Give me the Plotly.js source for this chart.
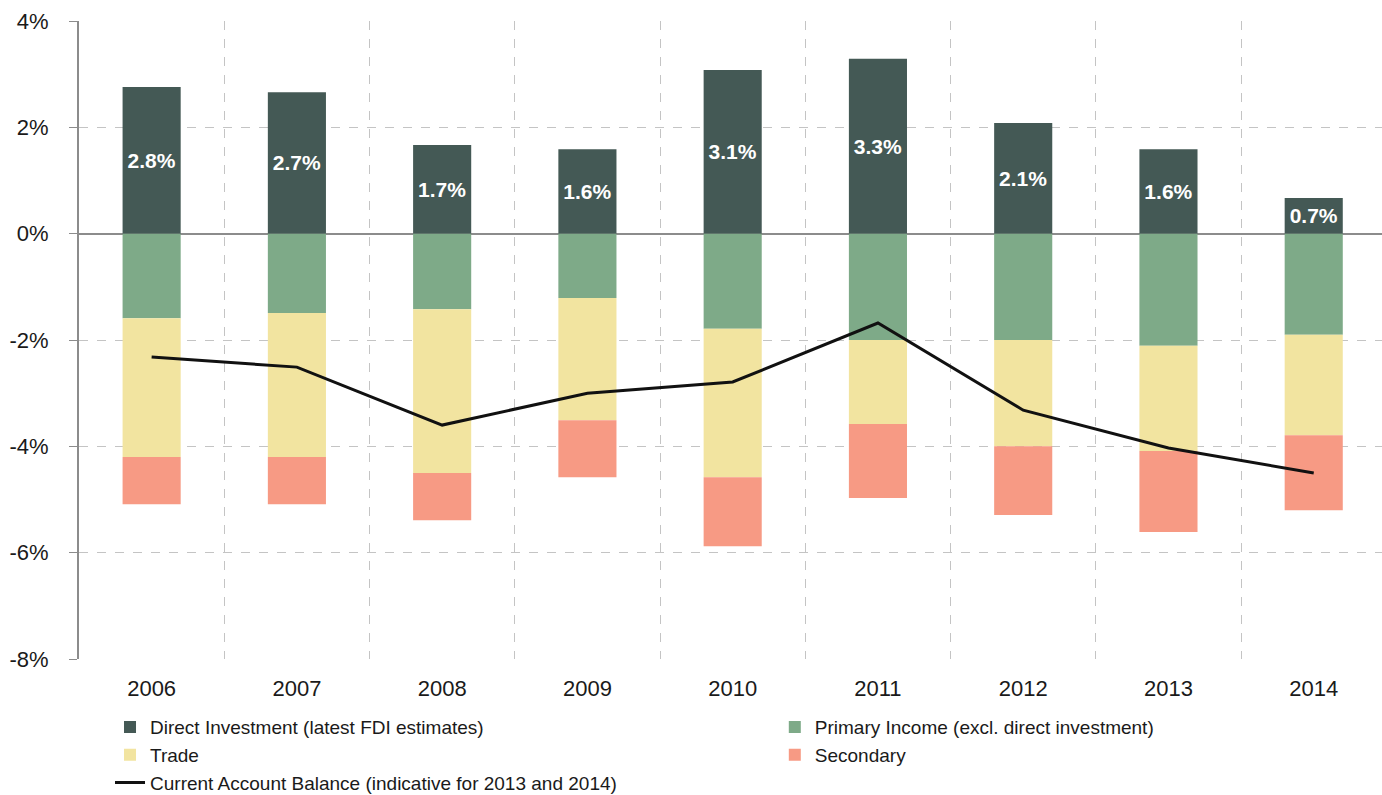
<!DOCTYPE html>
<html><head><meta charset="utf-8">
<script src="https://cdn.plot.ly/plotly-3.0.1.min.js"></script>
<style>html,body{margin:0;padding:0;background:#fff}#chart{width:1382px;height:795px}</style>
</head><body><div id="chart"></div>
<script>
const years = ['2006','2007','2008','2009','2010','2011','2012','2013','2014'];
const directInvestment = [2.76, 2.66, 1.67, 1.59, 3.08, 3.29, 2.08, 1.59, 0.67];
const primaryIncome = [-1.59, -1.49, -1.42, -1.21, -1.79, -2.0, -2.0, -2.11, -1.9];
const trade = [-2.61, -2.71, -3.08, -2.3, -2.79, -1.58, -2.0, -1.98, -1.89];
const secondary = [-0.89, -0.89, -0.89, -1.07, -1.3, -1.39, -1.29, -1.52, -1.41];
const currentAccount = [-2.32, -2.51, -3.6, -3.0, -2.79, -1.68, -3.32, -4.03, -4.5];
const yTickVals = [-8, -6, -4, -2, 0, 2, 4];

const font = 'Liberation Sans, Arial, sans-serif';
const barCommon = {type:'bar', x: years, width: 0.4, hoverinfo:'y'};
const traces = [
  Object.assign({}, barCommon, {name:'Direct Investment (latest FDI estimates)', y: directInvestment, legend:'legend',
    marker:{color:'#445955', line:{width:0}}, text: directInvestment.map(v => v.toFixed(1) + '%'),
    textposition:'inside', insidetextanchor:'middle', constraintext:'none',
    insidetextfont:{family:font, size:21, color:'#ffffff', weight:'bold'}}),
  Object.assign({}, barCommon, {name:'Primary Income (excl. direct investment)', y: primaryIncome, legend:'legend2', marker:{color:'#7eaa88', line:{width:0}}}),
  Object.assign({}, barCommon, {name:'Trade', y: trade, legend:'legend', marker:{color:'#f2e4a0', line:{width:0}}}),
  Object.assign({}, barCommon, {name:'Secondary', y: secondary, legend:'legend2', marker:{color:'#f79a84', line:{width:0}}}),
  {type:'scatter', mode:'lines', name:'Current Account Balance (indicative for 2013 and 2014)', x: years, y: currentAccount,
   legend:'legend', line:{color:'#111111', width:3}}
];

const legendCommon = {orientation:'v', xanchor:'left', y:-0.077, yanchor:'top', traceorder:'normal',
  font:{family:font, size:19, color:'#1a1a1a'}, itemwidth:30, tracegroupgap:0, bgcolor:'rgba(0,0,0,0)'};

const layout = {
  width:1382, height:795,
  margin:{l:79, r:0, t:21, b:136, autoexpand:false},
  paper_bgcolor:'#ffffff', plot_bgcolor:'#ffffff',
  barmode:'relative', bargap:0.6,
  font:{family:font, size:22, color:'#1a1a1a'},
  showlegend:true,
  xaxis:{type:'category', range:[-0.5, 8.47], tickson:'boundaries', showgrid:true,
    gridcolor:'#c4c4c4', griddash:'dash', gridwidth:1, ticks:'', ticklabelstandoff:14,
    tickfont:{family:font, size:22, color:'#1a1a1a'}, showline:false, zeroline:false, fixedrange:true},
  yaxis:{range:[-8, 4], tickvals: yTickVals, ticktext: yTickVals.map(v => v + '%'),
    showgrid:true, gridcolor:'#c4c4c4', griddash:'dash', gridwidth:1,
    zeroline:true, zerolinecolor:'#8c8c8c', zerolinewidth:2,
    showline:true, linecolor:'#8c8c8c', linewidth:2, ticks:'outside', ticklen:8, tickcolor:'#8c8c8c',
    tickfont:{family:font, size:22, color:'#1a1a1a'}, ticklabelstandoff:16},
  legend: Object.assign({}, legendCommon, {x:0.0238}),
  legend2: Object.assign({}, legendCommon, {x:0.534})
};
Plotly.newPlot('chart', traces, layout, {displayModeBar:false, staticPlot:true});
</script></body></html>
